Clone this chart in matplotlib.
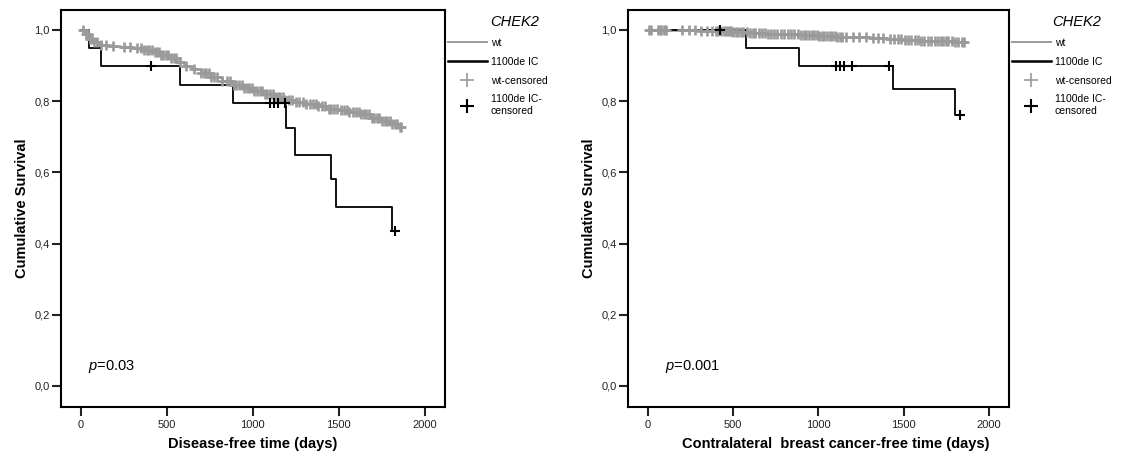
"""Kaplan-Meier style survival curves for CHEK2 wt vs 1100delC carriers."""

import matplotlib

matplotlib.use("Agg")
import matplotlib.pyplot as plt
import numpy as np
from matplotlib.lines import Line2D

plt.rcParams["font.family"] = ["Liberation Sans", "DejaVu Sans"]
plt.rcParams["mathtext.fontset"] = "custom"
plt.rcParams["mathtext.rm"] = "Liberation Sans"
plt.rcParams["mathtext.it"] = "Liberation Sans:italic"

GRAY = "#9a9a9a"
BLACK = "#000000"

# ---- shared axis data ----
x_ticks = [0, 500, 1000, 1500, 2000]
x_tick_labels = ["0", "500", "1000", "1500", "2000"]
y_ticks = [0.0, 0.2, 0.4, 0.6, 0.8, 1.0]
y_tick_labels = ["0,0", "0,2", "0,4", "0,6", "0,8", "1,0"]
legend_title = "CHEK2"
legend_labels = ["wt", "1100de IC", "wt-censored", "1100de IC-\ncensored"]

# ---- left panel: disease-free survival ----
dfs_wt_time = [0, 20, 45, 70, 110, 160, 230, 300, 360, 420, 470, 520, 560, 600,
               650, 700, 760, 820, 880, 940, 1000, 1060, 1120, 1180, 1240, 1300,
               1370, 1440, 1500, 1560, 1620, 1680, 1740, 1800, 1850, 1865]
dfs_wt_surv = [1.000, 0.990, 0.975, 0.966, 0.958, 0.955, 0.951, 0.948, 0.944,
               0.937, 0.929, 0.920, 0.910, 0.900, 0.890, 0.880, 0.869, 0.857,
               0.845, 0.836, 0.828, 0.820, 0.812, 0.804, 0.798, 0.792, 0.786,
               0.779, 0.774, 0.770, 0.763, 0.754, 0.745, 0.736, 0.728, 0.728]
dfs_wt_censor = [15, 30, 42, 55, 68, 80, 95, 120, 150, 190, 250, 290, 330, 350,
                 370, 385, 400, 415, 430, 445, 455, 470, 480, 495, 510, 525, 540,
                 555, 580, 610, 660, 700, 715, 730, 745, 760, 775, 790, 820, 850,
                 870, 890, 905, 920, 935, 950, 965, 980, 995, 1010, 1025, 1040,
                 1055, 1070, 1085, 1100, 1115, 1130, 1145, 1160, 1175, 1190, 1210,
                 1230, 1250, 1270, 1290, 1310, 1330, 1350, 1365, 1380, 1400, 1420,
                 1440, 1455, 1470, 1490, 1510, 1530, 1545, 1560, 1580, 1600, 1615,
                 1630, 1645, 1660, 1675, 1690, 1705, 1720, 1735, 1750, 1765, 1780,
                 1795, 1810, 1825, 1840, 1855, 1862]
dfs_mut_time = [0, 50, 118, 577, 886, 1194, 1248, 1457, 1483, 1806, 1830]
dfs_mut_surv = [1.0, 0.95, 0.90, 0.846, 0.795, 0.724, 0.65, 0.58, 0.504, 0.435, 0.435]
dfs_mut_censor = [412, 1100, 1123, 1148, 1186, 1828]

# ---- right panel: contralateral breast cancer-free survival ----
cbc_wt_time = [0, 150, 300, 420, 500, 600, 700, 800, 900, 1000, 1100, 1200,
               1300, 1400, 1500, 1600, 1700, 1800, 1860]
cbc_wt_surv = [1.000, 1.000, 0.998, 0.996, 0.993, 0.991, 0.990, 0.988, 0.986,
               0.984, 0.981, 0.979, 0.976, 0.974, 0.972, 0.970, 0.968, 0.967, 0.967]
cbc_wt_censor = [10, 20, 60, 70, 80, 95, 105, 200, 240, 280, 315, 345, 375, 400,
                 415, 430, 445, 460, 470, 480, 490, 500, 515, 530, 545, 560, 580,
                 600, 615, 630, 650, 670, 690, 705, 720, 740, 760, 780, 800, 820,
                 840, 860, 880, 900, 915, 930, 945, 960, 975, 990, 1005, 1020,
                 1035, 1050, 1065, 1080, 1095, 1110, 1125, 1140, 1160, 1200, 1240,
                 1280, 1320, 1350, 1380, 1420, 1445, 1465, 1485, 1505, 1525, 1545,
                 1565, 1585, 1600, 1620, 1640, 1660, 1680, 1700, 1715, 1730, 1745,
                 1760, 1780, 1800, 1820, 1840, 1855]
cbc_mut_time = [0, 577, 889, 1439, 1801, 1832]
cbc_mut_surv = [1.0, 0.95, 0.90, 0.835, 0.761, 0.761]
cbc_mut_censor = [421, 1105, 1129, 1152, 1199, 1415, 1830]


def step_value(times, surv, at):
    """Survival value of a post-step curve at the given times."""
    idx = np.searchsorted(np.asarray(times), np.asarray(at), side="right") - 1
    return np.asarray(surv)[np.clip(idx, 0, len(surv) - 1)]


def draw_panel(ax, wt, mut, xlabel, p_text, p_x, xlabel_x, title_x):
    wt_time, wt_surv, wt_censor = wt
    mut_time, mut_surv, mut_censor = mut
    ax.plot(wt_time, wt_surv, drawstyle="steps-post", color=GRAY, lw=1.8, zorder=2)
    ax.plot(mut_time, mut_surv, drawstyle="steps-post", color=BLACK, lw=1.3, zorder=3)
    ax.plot(wt_censor, step_value(wt_time, wt_surv, wt_censor), ls="none",
            marker="+", ms=7, mew=1.9, color=GRAY, zorder=4)
    ax.plot(mut_censor, step_value(mut_time, mut_surv, mut_censor), ls="none",
            marker="+", ms=7, mew=1.5, color=BLACK, zorder=5)

    ax.set_xlim(-115, 2116)
    ax.set_ylim(-0.059, 1.056)
    ax.set_xticks(x_ticks, x_tick_labels)
    ax.set_yticks(y_ticks, y_tick_labels)
    ax.tick_params(axis="both", direction="out", length=6.5, width=1.5,
                   labelsize=8, colors="#222222")
    ax.tick_params(axis="x", pad=3)
    ax.tick_params(axis="y", pad=1.5)
    for spine in ax.spines.values():
        spine.set_linewidth(1.5)

    ax.set_xlabel(xlabel, fontsize=10.5, fontweight="bold")
    ax.xaxis.set_label_coords(xlabel_x, -0.075)
    ax.set_ylabel("Cumulative Survival", fontsize=10.5, fontweight="bold", labelpad=4)
    ax.text(p_x, 0.056, p_text, fontsize=10.5, va="center")

    handles = [
        Line2D([], [], color=GRAY, lw=1.4),
        Line2D([], [], color=BLACK, lw=1.8),
        Line2D([], [], ls="none", marker="+", ms=10, mew=1.2, color=GRAY),
        Line2D([], [], ls="none", marker="+", ms=10, mew=1.5, color=BLACK),
    ]
    ax.legend(handles, legend_labels, loc="upper left",
              bbox_to_anchor=(1.007, 0.930), frameon=False, fontsize=7.5,
              handlelength=3.8, handletextpad=0.35, labelspacing=0.85,
              borderpad=0, borderaxespad=0)
    ax.text(title_x, 0.970, legend_title, transform=ax.transAxes, fontsize=10.5,
            style="italic", va="center", ha="left")


fig = plt.figure(figsize=(11.26, 4.55), dpi=100)
ax_left = fig.add_axes([0.0539, 0.1055, 0.3413, 0.8725])
ax_right = fig.add_axes([0.5577, 0.1055, 0.3384, 0.8725])

draw_panel(ax_left, (dfs_wt_time, dfs_wt_surv, dfs_wt_censor),
           (dfs_mut_time, dfs_mut_surv, dfs_mut_censor),
           "Disease-free time (days)", "$p$=0.03", 42, 0.5, 1.117)
draw_panel(ax_right, (cbc_wt_time, cbc_wt_surv, cbc_wt_censor),
           (cbc_mut_time, cbc_mut_surv, cbc_mut_censor),
           "Contralateral  breast cancer-free time (days)", "$p$=0.001", 99, 0.546,
           1.113)

fig.savefig("out.png", dpi=100)
